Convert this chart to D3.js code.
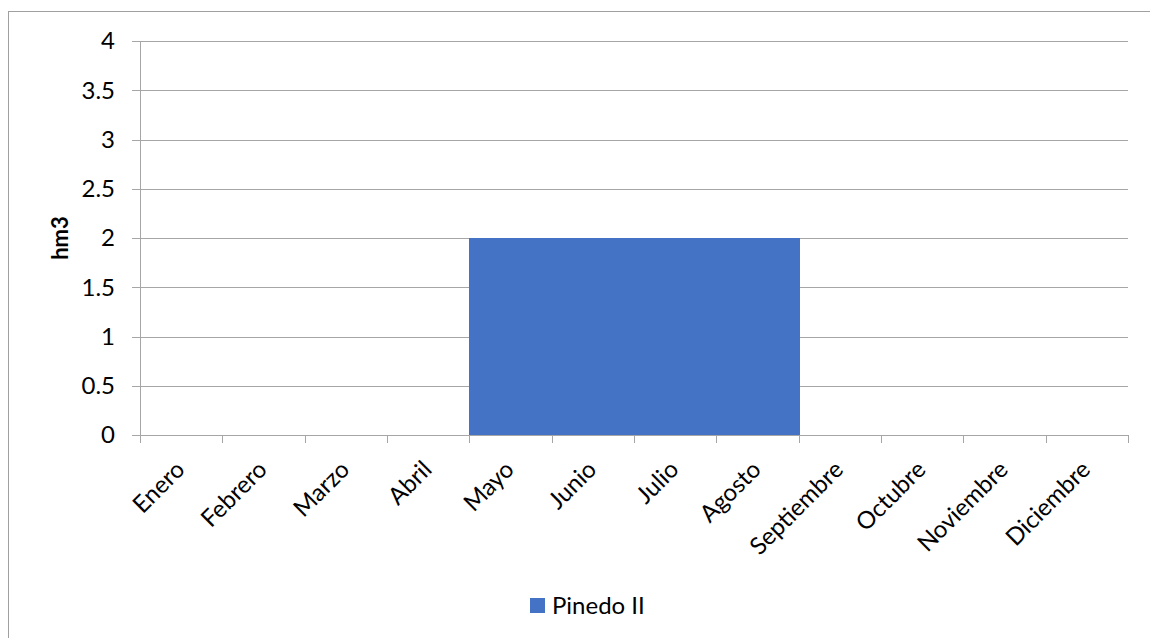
<!DOCTYPE html>
<html><head><meta charset="utf-8">
<script src="https://cdn.jsdelivr.net/npm/d3@7"></script>
<style>body{margin:0;background:#fff}text{font-family:Lato,"Noto Sans",sans-serif}</style>
</head><body>
<svg id="c" width="1150" height="638"></svg>
<script>
const categories = ["Enero","Febrero","Marzo","Abril","Mayo","Junio","Julio","Agosto","Septiembre","Octubre","Noviembre","Diciembre"];
const values = [0,0,0,0,2,2,2,2,0,0,0,0];
const yTicks = [0,0.5,1,1.5,2,2.5,3,3.5,4];
const seriesName = "Pinedo II";
const yTitle = "hm3";

const svg = d3.select("#c");
const L = 140, R = 1128, T = 41, B = 435;
svg.append("rect").attr("x",8.5).attr("y",11.5).attr("width",1150).attr("height",640)
  .attr("fill","none").attr("stroke","#a0a0a0");

const x = d3.scaleBand().domain(categories).range([L,R]).padding(0);
const y = d3.scaleLinear().domain([0,4]).range([B,T]);

// gridlines
svg.append("g").selectAll("line").data(yTicks).join("line")
  .attr("x1",L-8).attr("x2",R).attr("y1",d=>Math.round(y(d))+0.5).attr("y2",d=>Math.round(y(d))+0.5)
  .attr("stroke","#a6a6a6").attr("stroke-width",1);

// bars
svg.append("g").attr("shape-rendering","crispEdges").selectAll("rect")
  .data(categories.map((c,i)=>({c,v:values[i]})).filter(d=>d.v>0)).join("rect")
  .attr("x",d=>x(d.c)).attr("width",x.bandwidth()+1)
  .attr("y",d=>y(d.v)).attr("height",d=>y(0)-y(d.v)).attr("fill","#4472C4");

// y axis line
svg.append("line").attr("x1",L+0.5).attr("x2",L+0.5).attr("y1",T).attr("y2",B).attr("stroke","#a6a6a6");
// y labels
svg.append("g").selectAll("text").data(yTicks).join("text")
  .attr("x",L-25).attr("y",d=>y(d)).attr("dy","0.35em").attr("text-anchor","end")
  .attr("font-size",24).attr("fill","#000").text(d=>d);

// x axis
const xa = svg.append("g").attr("transform",`translate(0,${B})`)
  .call(d3.axisBottom(x).tickSize(0).tickFormat(""));
xa.select(".domain").remove();
svg.append("line").attr("x1",L).attr("x2",R).attr("y1",B+0.5).attr("y2",B+0.5).attr("stroke","#a6a6a6");
const edges = categories.map(c=>x(c)).concat([R]);
svg.append("g").selectAll("line").data(edges).join("line")
  .attr("x1",d=>Math.round(d)+0.5).attr("x2",d=>Math.round(d)+0.5).attr("y1",B).attr("y2",B+8)
  .attr("stroke","#a6a6a6");
svg.append("g").selectAll("text").data(categories).join("text")
  .attr("transform",d=>`translate(${x(d)+x.bandwidth()/2+5},${B+36}) rotate(-45)`)
  .attr("text-anchor","end").attr("font-size",24).attr("fill","#000").text(d=>d);

// y title
svg.append("text").attr("transform",`translate(68,${(T+B)/2}) rotate(-90)`)
  .attr("text-anchor","middle").attr("font-size",22).attr("font-weight","bold").text(yTitle);

// legend
svg.append("rect").attr("x",530).attr("y",598).attr("width",15).attr("height",15).attr("fill","#4472C4");
svg.append("text").attr("x",552).attr("y",606).attr("dy","0.35em").attr("font-size",24).text(seriesName);
</script>
</body></html>
